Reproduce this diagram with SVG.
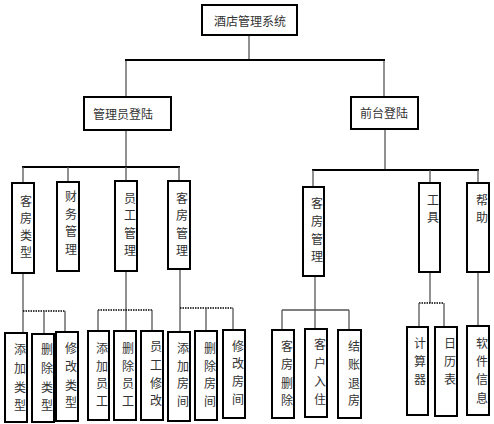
<svg xmlns="http://www.w3.org/2000/svg" width="494" height="424" viewBox="0 0 494 424">
<style>
.box{fill:#fff;stroke:#000;stroke-width:2}
.t{font-family:"Noto Sans CJK SC","Liberation Serif",serif;font-size:12px;fill:#333;text-anchor:middle;dominant-baseline:central}
.c{stroke:#555;stroke-width:1.3;fill:none}
.bar{stroke:#000;stroke-width:2.2;fill:none}
.dot{stroke:#000;stroke-width:1.6;stroke-dasharray:1.5 1;fill:none}
</style>
<rect width="494" height="424" fill="#fff"/>
<g id="connectors">
<line class="c" x1="249" y1="35" x2="249" y2="60"/>
<line class="c" x1="126" y1="60" x2="126" y2="97"/>
<line class="c" x1="384" y1="60" x2="384" y2="97"/>
<line class="bar" x1="125" y1="60" x2="385" y2="60"/>
<line class="c" x1="126" y1="130" x2="126" y2="167"/>
<line class="bar" x1="22" y1="167" x2="180" y2="167"/>
<line class="c" x1="23" y1="167" x2="23" y2="183"/>
<line class="c" x1="68" y1="167" x2="68" y2="182"/>
<line class="c" x1="126" y1="167" x2="126" y2="181"/>
<line class="c" x1="179" y1="167" x2="179" y2="181"/>
<line class="c" x1="385" y1="129" x2="385" y2="170"/>
<line class="bar" x1="312" y1="170" x2="479" y2="170"/>
<line class="c" x1="313" y1="170" x2="313" y2="187"/>
<line class="c" x1="430" y1="170" x2="430" y2="183"/>
<line class="c" x1="478" y1="170" x2="478" y2="183"/>
<line class="c" x1="23" y1="273" x2="23" y2="333"/>
<line class="dot" x1="23" y1="311" x2="65" y2="311"/>
<line class="c" x1="44" y1="311" x2="44" y2="334"/>
<line class="c" x1="65" y1="311" x2="65" y2="332"/>
<line class="c" x1="126" y1="271" x2="126" y2="331"/>
<line class="dot" x1="98" y1="310" x2="152" y2="310"/>
<line class="c" x1="98" y1="310" x2="98" y2="331"/>
<line class="c" x1="152" y1="310" x2="152" y2="331"/>
<line class="c" x1="180" y1="269" x2="180" y2="332"/>
<line class="dot" x1="180" y1="308" x2="233" y2="308"/>
<line class="c" x1="206" y1="308" x2="206" y2="331"/>
<line class="c" x1="233" y1="308" x2="233" y2="330"/>
<line class="c" x1="315" y1="276" x2="315" y2="329"/>
<line class="c" x1="282" y1="310" x2="349" y2="310"/>
<line class="c" x1="282" y1="310" x2="282" y2="330"/>
<line class="c" x1="349" y1="310" x2="349" y2="330"/>
<line class="c" x1="430" y1="272" x2="430" y2="303"/>
<line class="dot" x1="419" y1="303" x2="444" y2="303"/>
<line class="c" x1="419" y1="303" x2="419" y2="327"/>
<line class="c" x1="444" y1="303" x2="444" y2="327"/>
<line class="c" x1="478" y1="272" x2="478" y2="326"/>
</g>
<g id="n-root"><rect class="box" x="202" y="5" width="95" height="30"/><text class="t" x="250" y="20">酒店管理系统</text></g>
<g id="n-admin"><rect class="box" x="84" y="97" width="87" height="33"/><text class="t" x="123" y="113">管理员登陆</text></g>
<g id="n-front"><rect class="box" x="351" y="97" width="67" height="32"/><text class="t" x="384" y="112">前台登陆</text></g>

<g id="n-kflx"><rect class="box" x="12" y="183" width="22" height="90"/><text class="t"><tspan x="26" y="200">客</tspan><tspan x="26" y="217">房</tspan><tspan x="26" y="234">类</tspan><tspan x="26" y="251">型</tspan></text></g>
<g id="n-cwgl"><rect class="box" x="57" y="182" width="22" height="89"/><text class="t"><tspan x="71" y="195">财</tspan><tspan x="71" y="213">务</tspan><tspan x="71" y="230">管</tspan><tspan x="71" y="248">理</tspan></text></g>
<g id="n-ygl"><rect class="box" x="115" y="181" width="22" height="90"/><text class="t"><tspan x="130" y="197">员</tspan><tspan x="130" y="214">工</tspan><tspan x="130" y="232">管</tspan><tspan x="130" y="249">理</tspan></text></g>
<g id="n-kfgl1"><rect class="box" x="168" y="181" width="22" height="88"/><text class="t"><tspan x="182" y="197">客</tspan><tspan x="182" y="214">房</tspan><tspan x="182" y="232">管</tspan><tspan x="182" y="249">理</tspan></text></g>

<g id="n-kfgl2"><rect class="box" x="303" y="187" width="21" height="89"/><text class="t"><tspan x="317" y="202">客</tspan><tspan x="317" y="220">房</tspan><tspan x="317" y="238">管</tspan><tspan x="317" y="255">理</tspan></text></g>
<g id="n-gj"><rect class="box" x="419" y="183" width="21" height="89"/><text class="t"><tspan x="433" y="199">工</tspan><tspan x="433" y="216">具</tspan></text></g>
<g id="n-bz"><rect class="box" x="467" y="183" width="22" height="89"/><text class="t"><tspan x="482" y="199">帮</tspan><tspan x="482" y="216">助</tspan></text></g>

<g id="n-tjlx"><rect class="box" x="5" y="333" width="22" height="89"/><text class="t"><tspan x="20" y="348">添</tspan><tspan x="20" y="367">加</tspan><tspan x="20" y="386">类</tspan><tspan x="20" y="404">型</tspan></text></g>
<g id="n-sclx"><rect class="box" x="32" y="334" width="22" height="88"/><text class="t"><tspan x="47" y="348">删</tspan><tspan x="47" y="367">除</tspan><tspan x="47" y="386">类</tspan><tspan x="47" y="404">型</tspan></text></g>
<g id="n-xglx"><rect class="box" x="56" y="332" width="22" height="89"/><text class="t"><tspan x="71" y="347">修</tspan><tspan x="71" y="365">改</tspan><tspan x="71" y="384">类</tspan><tspan x="71" y="401">型</tspan></text></g>
<g id="n-tjyg"><rect class="box" x="88" y="331" width="21" height="89"/><text class="t"><tspan x="102" y="347">添</tspan><tspan x="102" y="365">加</tspan><tspan x="102" y="382">员</tspan><tspan x="102" y="400">工</tspan></text></g>
<g id="n-scyg"><rect class="box" x="114" y="331" width="22" height="89"/><text class="t"><tspan x="128" y="347">删</tspan><tspan x="128" y="365">除</tspan><tspan x="128" y="382">员</tspan><tspan x="128" y="400">工</tspan></text></g>
<g id="n-ygxg"><rect class="box" x="141" y="331" width="22" height="89"/><text class="t"><tspan x="156" y="345">员</tspan><tspan x="156" y="364">工</tspan><tspan x="156" y="382">修</tspan><tspan x="156" y="399">改</tspan></text></g>
<g id="n-tjfj"><rect class="box" x="168" y="332" width="22" height="89"/><text class="t"><tspan x="183" y="347">添</tspan><tspan x="183" y="365">加</tspan><tspan x="183" y="382">房</tspan><tspan x="183" y="400">间</tspan></text></g>
<g id="n-scfj"><rect class="box" x="195" y="331" width="22" height="89"/><text class="t"><tspan x="210" y="347">删</tspan><tspan x="210" y="365">除</tspan><tspan x="210" y="382">房</tspan><tspan x="210" y="400">间</tspan></text></g>
<g id="n-xgfj"><rect class="box" x="223" y="330" width="22" height="88"/><text class="t"><tspan x="238" y="345">修</tspan><tspan x="238" y="362">改</tspan><tspan x="238" y="380">房</tspan><tspan x="238" y="398">间</tspan></text></g>

<g id="n-kfsc"><rect class="box" x="272" y="330" width="22" height="88"/><text class="t"><tspan x="287" y="345">客</tspan><tspan x="287" y="363">房</tspan><tspan x="287" y="382">删</tspan><tspan x="287" y="399">除</tspan></text></g>
<g id="n-khrz"><rect class="box" x="305" y="329" width="22" height="88"/><text class="t"><tspan x="320" y="343">客</tspan><tspan x="320" y="362">户</tspan><tspan x="320" y="380">入</tspan><tspan x="320" y="398">住</tspan></text></g>
<g id="n-jztf"><rect class="box" x="338" y="330" width="23" height="88"/><text class="t"><tspan x="354" y="345">结</tspan><tspan x="354" y="363">账</tspan><tspan x="354" y="382">退</tspan><tspan x="354" y="399">房</tspan></text></g>
<g id="n-jsq"><rect class="box" x="407" y="327" width="21" height="88"/><text class="t"><tspan x="420" y="342">计</tspan><tspan x="420" y="360">算</tspan><tspan x="420" y="378">器</tspan></text></g>
<g id="n-rlb"><rect class="box" x="435" y="327" width="22" height="89"/><text class="t"><tspan x="450" y="342">日</tspan><tspan x="450" y="360">历</tspan><tspan x="450" y="378">表</tspan></text></g>
<g id="n-rjxx"><rect class="box" x="467" y="326" width="22" height="89"/><text class="t"><tspan x="482" y="342">软</tspan><tspan x="482" y="360">件</tspan><tspan x="482" y="378">信</tspan><tspan x="482" y="397">息</tspan></text></g>
</svg>
